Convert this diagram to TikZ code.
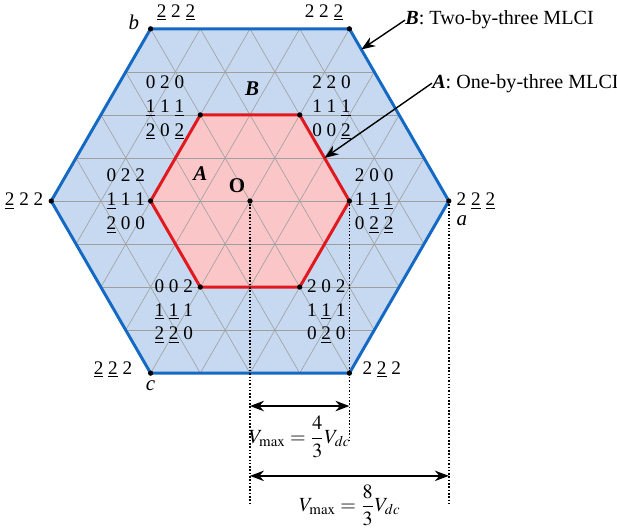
\documentclass[tikz,border=0pt]{standalone}
\usepackage{amsmath}
\usepackage{mathptmx}
\usepackage{fontspec}
\setmainfont{Liberation Serif}
\usetikzlibrary{arrows.meta, positioning, calc}
\newcommand{\ud}[1]{\underline{#1}}

\definecolor{regB}{RGB}{198,217,240}
\definecolor{regA}{RGB}{250,198,200}
\definecolor{edgeB}{RGB}{20,105,195}
\definecolor{edgeA}{RGB}{225,25,30}

\begin{document}
\begin{tikzpicture}[>={Stealth[length=8pt,width=6pt]},
 every node/.style={font=\fontsize{11}{13.6}\selectfont},
 vec/.style={align=center,inner sep=0pt},
 dot/.style={circle,fill=black,inner sep=0pt,minimum size=3pt},
 gridline/.style={gray!75,line width=.35pt},
 guide/.style={densely dotted,line width=.9pt},
 dim/.style={<->,line width=.9pt},
 note/.style={anchor=west,inner sep=0pt,font=\fontsize{11.5}{13}\selectfont}]
 \useasboundingbox (-5.03,-6.62) rectangle (7.384,4.044);
 \foreach \i in {0,...,5} {
  \coordinate (out\i) at (60*\i:4);
  \coordinate (in\i) at (60*\i:2);
 }
 % regions
 \fill[regB] (out0)--(out1)--(out2)--(out3)--(out4)--(out5)--cycle;
 \fill[regA] (in0)--(in1)--(in2)--(in3)--(in4)--(in5)--cycle;
 \begin{scope}
  \clip (out0)--(out1)--(out2)--(out3)--(out4)--(out5)--cycle;
  \foreach \k in {-4,...,4}
   \draw[gridline] (-4,\k*0.866) -- (4,\k*0.866);
  \foreach \j in {-8,...,8} {
   \draw[gridline] (\j-2.5,-4.33) -- (\j+2.5,4.33);
   \draw[gridline] (\j+2.5,-4.33) -- (\j-2.5,4.33);
  }
 \end{scope}
 \draw[edgeA,line width=1.7pt] (in0)--(in1)--(in2)--(in3)--(in4)--(in5)--cycle;
 \draw[edgeB,line width=1.7pt] (out0)--(out1)--(out2)--(out3)--(out4)--(out5)--cycle;
 % guides
 \node[dot] (o) at (0,0) {};
 \coordinate (oEnd) at (0,-6.08);
 \coordinate (inEnd) at (2,-4.81);
 \coordinate (aEnd) at (4,-6.08);
 \draw[guide] (o) -- (oEnd);
 \draw[guide] (in0) -- (inEnd);
 \draw[guide] (out0) -- (aEnd);
 \foreach \i in {0,...,5} {
  \node[dot] at (out\i) {};
  \node[dot] at (in\i) {};
 }
 % outer switching states
 \node[above right=1pt and 0pt of out2] (s2) {\ud{2} 2 \ud{2}};
 \node[above left=1pt and 0pt of out1] (s1) {2 2 \ud{2}};
 \node[left=1pt of out3] (s3) {\ud{2} 2 2};
 \node[right=1pt of out0] (s0) {2 \ud{2} \ud{2}};
 \node[left=7pt of out4,yshift=2pt] (s4) {\ud{2} \ud{2} 2};
 \node[right=4pt of out5,yshift=2pt] (s5) {2 \ud{2} 2};
 \node[left=3pt of out2,yshift=4pt,font=\fontsize{12}{14}\selectfont\itshape] (b) {b};
 \node[below right=5pt and 1pt of out0,font=\fontsize{12}{14}\selectfont\itshape] (a) {a};
 \node[below=1pt of out4,font=\fontsize{12}{14}\selectfont\itshape] (c) {c};
 % inner switching states
 \node[vec,left=9pt of in2,yshift=4pt] (t2) {0 2 0\\\ud{1} 1 \ud{1}\\\ud{2} 0 \ud{2}};
 \node[vec,right=7pt of in1,yshift=4pt] (t1) {2 2 0\\1 1 \ud{1}\\0 0 \ud{2}};
 \node[vec,left=3pt of in3] (t3) {0 2 2\\\ud{1} 1 1\\\ud{2} 0 0};
 \node[vec,right=3pt of in0] (t0) {2 0 0\\1 \ud{1} \ud{1}\\0 \ud{2} \ud{2}};
 \node[vec,left=4pt of in4,yshift=-14pt] (t4) {0 0 2\\\ud{1} \ud{1} 1\\\ud{2} \ud{2} 0};
 \node[vec,right=4pt of in5,yshift=-14pt] (t5) {2 0 2\\1 \ud{1} 1\\0 \ud{2} 0};
 % region names
 \node[font=\fontsize{12}{14}\selectfont\bfseries\itshape] (nB) at (0.04,2.27) {B};
 \node[font=\fontsize{12}{14}\selectfont\bfseries\itshape] (nA) at (-1,0.56) {A};
 \node[above left=0pt and -2pt of o,font=\fontsize{12}{14}\selectfont\bfseries] (olab) {O};
 % callouts
 \node[note] (lblB) at (3.12,3.64) {\textbf{\textit{B}}: Two-by-three MLCI};
 \node[note] (lblA) at (3.66,2.37) {\textbf{\textit{A}}: One-by-three MLCI};
 \coordinate (hitB) at ($(out1)!0.12!(out0)$);
 \coordinate (hitA) at ($(in1)!0.5!(in0)$);
 \draw[->,line width=.8pt] (lblB.west) -- (hitB);
 \draw[->,line width=.8pt] (lblA.west) -- (hitA);
 % voltage spans
 \coordinate (m1l) at (0,-4.125);
 \coordinate (m1r) at (2,-4.125);
 \coordinate (m2l) at (0,-5.53);
 \coordinate (m2r) at (4,-5.53);
 \draw[dim] (m1l) -- (m1r);
 \draw[dim] (m2l) -- (m2r);
 \node[font=\fontsize{11.5}{14}\selectfont] (v1) at (1.0,-4.75) {$V_{\max}=\dfrac{4}{3}V_{dc}$};
 \node[font=\fontsize{11.5}{14}\selectfont] (v2) at (2.01,-6.12) {$V_{\max}=\dfrac{8}{3}V_{dc}$};
\end{tikzpicture}
\end{document}
